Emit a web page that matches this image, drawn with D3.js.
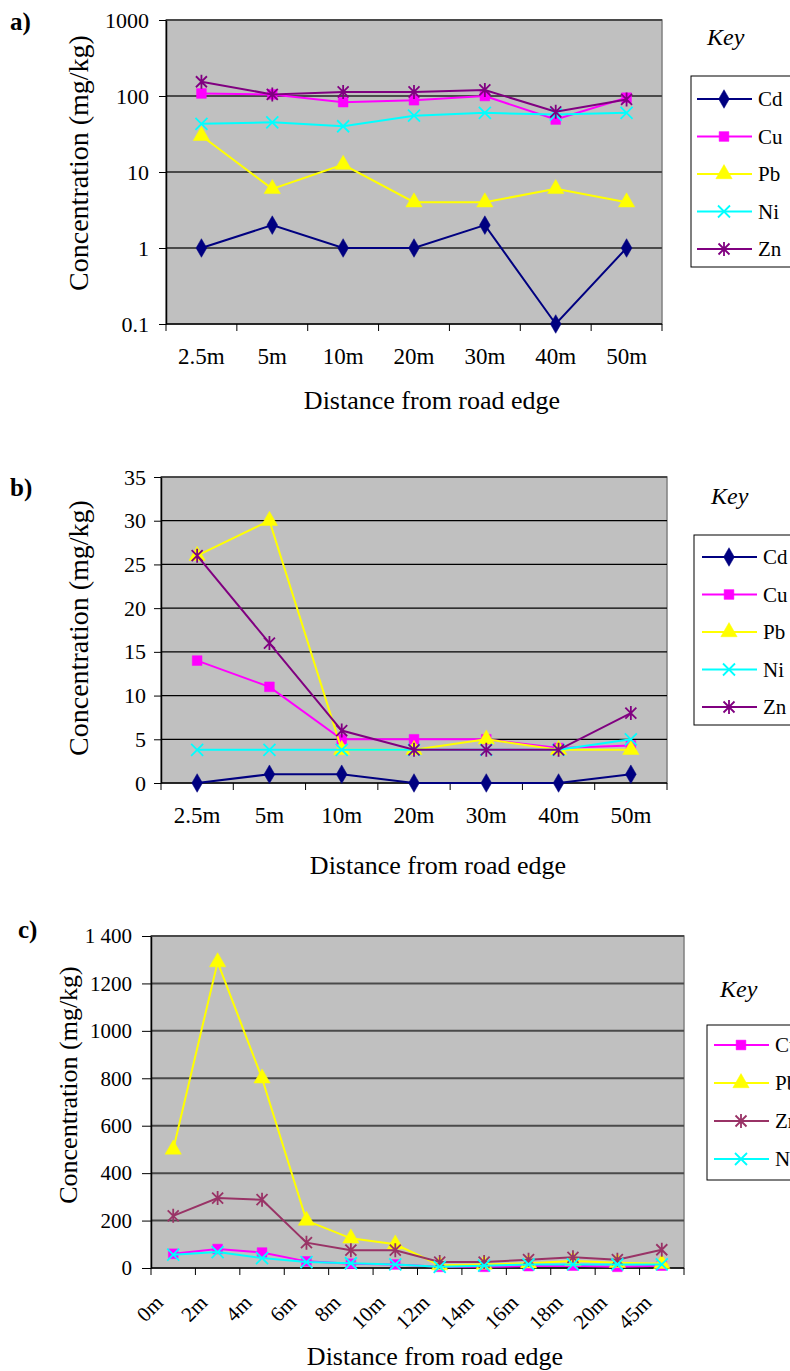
<!DOCTYPE html>
<html>
<head>
<meta charset="utf-8">
<script src="https://cdn.jsdelivr.net/npm/d3@7"></script>
<style>
  body { margin: 0; background: #fff; }
  svg { display: block; }
</style>
</head>
<body>
<div id="container"></div>
<script>
// categories
const distAB = ['2.5m', '5m', '10m', '20m', '30m', '40m', '50m'];
const distC = ['0m', '2m', '4m', '6m', '8m', '10m', '12m', '14m', '16m', '18m', '20m', '45m'];

// panel a (log scale)
const cdA = [1, 2, 1, 1, 2, 0.1, 1];
const cuA = [108, 105, 83, 88, 100, 49, 95];
const pbA = [30, 6, 12.5, 4, 4, 6, 4];
const niA = [43, 45, 40, 55, 60, 57, 60];
const znA = [154, 105, 113, 113, 120, 62, 90];

// panel b
const cdB = [0, 1, 1, 0, 0, 0, 1];
const cuB = [14, 11, 5, 5, 5, 4, 4.3];
const pbB = [26, 30, 3.8, 3.8, 5, 3.8, 3.8];
const niB = [3.8, 3.8, 3.8, 3.8, 3.8, 3.8, 5];
const znB = [26, 16, 6, 3.8, 3.8, 3.8, 8];

// panel c
const cuC = [60, 80, 65, 28, 18, 15, 5, 5, 8, 10, 5, 10];
const pbC = [500, 1290, 800, 200, 125, 100, 12, 15, 20, 30, 22, 18];
const znC = [220, 295, 288, 107, 75, 75, 25, 25, 35, 45, 35, 77];
const niC = [56, 67, 42, 25, 20, 15, 5, 10, 15, 15, 15, 15];

// tick labels
const ticksA = [0.1, 1, 10, 100, 1000];
const ticksB = [0, 5, 10, 15, 20, 25, 30, 35];
const ticksC = [0, 200, 400, 600, 800, 1000, 1200, 1400];

const width = 790;
const height = 1371;
const serif = '"Liberation Serif", "Times New Roman", serif';

const svg = d3.select('#container')
  .append('svg')
  .attr('width', width)
  .attr('height', height);

const markers = {
  diamond: d3.symbol(d3.symbolDiamond, 100)(),
  square: d3.symbol(d3.symbolSquare, 95)(),
  triangle: d3.symbol(d3.symbolTriangle, 115)(),
  x: 'M-6,-6L6,6M-6,6L6,-6',
  star: 'M-5.5,-5.5L5.5,5.5M-5.5,5.5L5.5,-5.5M0,-7L0,7'
};
const filled = { diamond: true, square: true, triangle: true, x: false, star: false };

function drawMarker(g, type, color, x, y) {
  g.append('path')
    .attr('d', markers[type])
    .attr('transform', `translate(${x},${y})`)
    .attr('fill', filled[type] ? color : 'none')
    .attr('stroke', color)
    .attr('stroke-width', filled[type] ? 0.5 : 1.8);
}

function drawPanel(p) {
  const g = svg.append('g');
  const x = d3.scaleBand().domain(p.cats).range([p.left, p.right]);
  const y = p.log
    ? d3.scaleLog().domain([0.1, 1000]).range([p.bottom, p.top])
    : d3.scaleLinear().domain([0, p.ticks[p.ticks.length - 1]]).range([p.bottom, p.top]);

  g.append('rect')
    .attr('x', p.left).attr('y', p.top)
    .attr('width', p.right - p.left).attr('height', p.bottom - p.top)
    .attr('fill', '#c0c0c0')
    .attr('stroke', '#808080')
    .attr('stroke-width', 1.5);

  g.selectAll('.grid')
    .data(p.ticks.slice(1))
    .enter()
    .append('line')
    .attr('x1', p.left).attr('x2', p.right)
    .attr('y1', d => y(d)).attr('y2', d => y(d))
    .attr('stroke', p.gridColor)
    .attr('stroke-width', p.gridWidth);

  const yAxis = g.append('g')
    .attr('transform', `translate(${p.left},0)`)
    .call(d3.axisLeft(y)
      .tickValues(p.ticks)
      .tickFormat(p.fmt)
      .tickSize(p.yTick)
      .tickSizeOuter(0)
      .tickPadding(p.yPad));
  yAxis.attr('font-family', serif).attr('font-size', p.yFontSize);
  yAxis.selectAll('text').attr('fill', '#000');
  yAxis.select('.domain').attr('stroke', '#000').attr('stroke-width', 1.5);

  // category boundary ticks along the bottom
  const bounds = p.cats.map(c => x(c)).concat([p.right]);
  g.append('line')
    .attr('x1', p.left).attr('x2', p.right)
    .attr('y1', p.bottom).attr('y2', p.bottom)
    .attr('stroke', '#000').attr('stroke-width', 1.5);
  g.selectAll('.xtick')
    .data(bounds)
    .enter()
    .append('line')
    .attr('x1', d => d).attr('x2', d => d)
    .attr('y1', p.bottom).attr('y2', p.bottom + 7)
    .attr('stroke', '#000');

  const xl = g.selectAll('.xlab')
    .data(p.cats)
    .enter()
    .append('text')
    .attr('font-family', serif)
    .attr('font-size', p.xFontSize)
    .text(d => d);
  if (p.rotate) {
    xl.attr('text-anchor', 'end')
      .attr('transform', d => `translate(${x(d) + x.bandwidth() / 2 - 9},${p.bottom + 36}) rotate(-45)`);
  } else {
    xl.attr('text-anchor', 'middle')
      .attr('x', d => x(d) + x.bandwidth() / 2)
      .attr('y', p.xLabY);
  }

  g.append('text')
    .attr('font-family', serif)
    .attr('font-size', p.titleSize)
    .attr('text-anchor', 'middle')
    .attr('x', p.xTitleX).attr('y', p.xTitleY)
    .text('Distance from road edge');

  g.append('text')
    .attr('font-family', serif)
    .attr('font-size', p.yTitleSize)
    .attr('text-anchor', 'middle')
    .attr('transform', `translate(${p.yTitleX},${p.yTitleY}) rotate(-90)`)
    .text('Concentration (mg/kg)');

  g.append('text')
    .attr('font-family', serif)
    .attr('font-size', 25)
    .attr('font-weight', 'bold')
    .attr('x', p.tagX).attr('y', p.tagY)
    .text(p.tag);

  const line = d3.line()
    .x((d, i) => x(p.cats[i]) + x.bandwidth() / 2)
    .y(d => y(d));

  p.series.forEach(s => {
    g.append('path')
      .datum(s.values)
      .attr('d', line)
      .attr('fill', 'none')
      .attr('stroke', s.color)
      .attr('stroke-width', 2);
    s.values.forEach((v, i) => {
      drawMarker(g, s.marker, s.color, x(p.cats[i]) + x.bandwidth() / 2, y(v));
    });
  });

  // legend
  const lg = p.legend;
  g.append('text')
    .attr('font-family', serif)
    .attr('font-size', 24)
    .attr('font-style', 'italic')
    .attr('x', lg.keyX).attr('y', lg.keyY)
    .text('Key');
  g.append('rect')
    .attr('x', lg.x).attr('y', lg.y)
    .attr('width', 200).attr('height', lg.h)
    .attr('fill', '#fff')
    .attr('stroke', '#000')
    .attr('stroke-width', 1);
  p.series.forEach((s, i) => {
    const yy = lg.y0 + i * lg.step;
    g.append('line')
      .attr('x1', lg.lx).attr('x2', lg.lx + 55)
      .attr('y1', yy).attr('y2', yy)
      .attr('stroke', s.color).attr('stroke-width', 2);
    drawMarker(g, s.marker, s.color, lg.lx + 27, yy);
    g.append('text')
      .attr('font-family', serif)
      .attr('font-size', 21)
      .attr('x', lg.lx + 61).attr('y', yy + 7)
      .text(s.name);
  });
}

const NAVY = '#000080', MAG = '#ff00ff', YEL = '#ffff00', CYAN = '#00ffff', PURP = '#800080', PLUM = '#993366';

drawPanel({
  tag: 'a)', tagX: 10, tagY: 30,
  cats: distAB, log: true, ticks: ticksA, fmt: d => String(d),
  left: 166, right: 662, top: 20, bottom: 324,
  gridColor: '#4a4a4a', gridWidth: 2,
  yTick: 7, yPad: 10, yFontSize: 22, xFontSize: 23, xLabY: 364,
  titleSize: 26, xTitleX: 432, xTitleY: 409,
  yTitleSize: 28, yTitleX: 88, yTitleY: 163,
  series: [
    { name: 'Cd', values: cdA, color: NAVY, marker: 'diamond' },
    { name: 'Cu', values: cuA, color: MAG, marker: 'square' },
    { name: 'Pb', values: pbA, color: YEL, marker: 'triangle' },
    { name: 'Ni', values: niA, color: CYAN, marker: 'x' },
    { name: 'Zn', values: znA, color: PURP, marker: 'star' }
  ],
  legend: { keyX: 707, keyY: 45, x: 691, y: 76, h: 191, y0: 99, step: 37.5, lx: 697 }
});

drawPanel({
  tag: 'b)', tagX: 10, tagY: 496,
  cats: distAB, log: false, ticks: ticksB, fmt: d => String(d),
  left: 161, right: 667, top: 477, bottom: 783,
  gridColor: '#000', gridWidth: 1.2,
  yTick: 7, yPad: 8, yFontSize: 22, xFontSize: 23, xLabY: 823,
  titleSize: 26, xTitleX: 438, xTitleY: 874,
  yTitleSize: 28, yTitleX: 88, yTitleY: 628,
  series: [
    { name: 'Cd', values: cdB, color: NAVY, marker: 'diamond' },
    { name: 'Cu', values: cuB, color: MAG, marker: 'square' },
    { name: 'Pb', values: pbB, color: YEL, marker: 'triangle' },
    { name: 'Ni', values: niB, color: CYAN, marker: 'x' },
    { name: 'Zn', values: znB, color: PURP, marker: 'star' }
  ],
  legend: { keyX: 711, keyY: 504, x: 694, y: 535, h: 190, y0: 557, step: 37.5, lx: 702 }
});

drawPanel({
  tag: 'c)', tagX: 18, tagY: 938,
  cats: distC, log: false, ticks: ticksC, fmt: d => (d === 1400 ? '1 400' : String(d)),
  left: 151, right: 684, top: 936, bottom: 1268, rotate: true,
  gridColor: '#4a4a4a', gridWidth: 2,
  yTick: 9, yPad: 10, yFontSize: 21, xFontSize: 21,
  titleSize: 26, xTitleX: 435, xTitleY: 1365,
  yTitleSize: 26, yTitleX: 77, yTitleY: 1085,
  series: [
    { name: 'Cu', values: cuC, color: MAG, marker: 'square' },
    { name: 'Pb', values: pbC, color: YEL, marker: 'triangle' },
    { name: 'Zn', values: znC, color: PLUM, marker: 'star' },
    { name: 'Ni', values: niC, color: CYAN, marker: 'x' }
  ],
  legend: { keyX: 720, keyY: 997, x: 707, y: 1025, h: 155, y0: 1045, step: 38, lx: 714 }
});
</script>
</body>
</html>
